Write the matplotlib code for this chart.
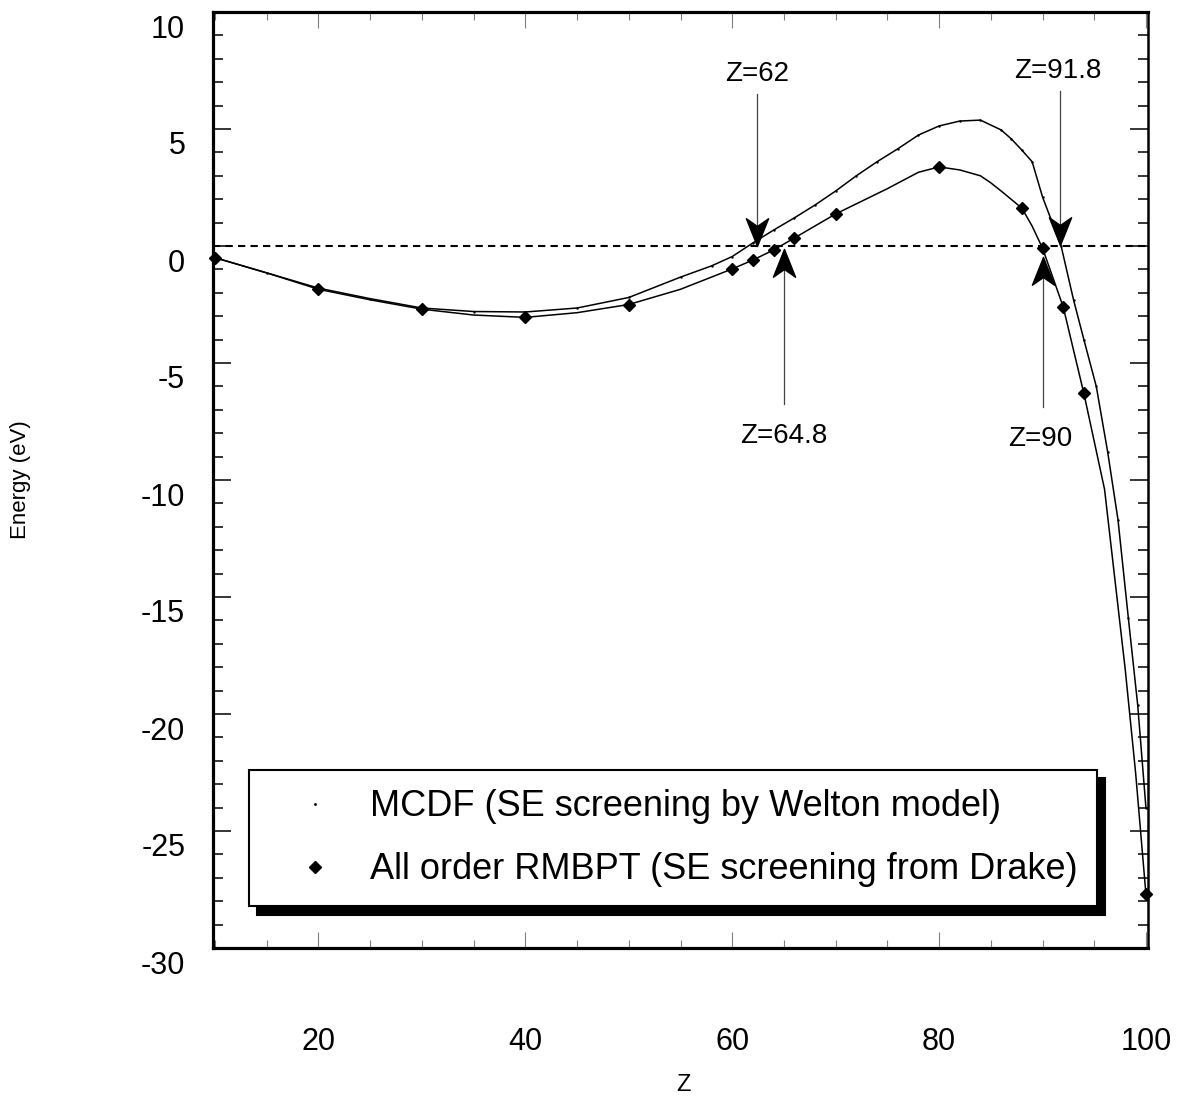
import matplotlib
matplotlib.use("Agg")
import matplotlib.pyplot as plt
import matplotlib.transforms as mtransforms
from matplotlib.lines import Line2D
from matplotlib.path import Path
from matplotlib.ticker import MultipleLocator

plt.rcParams["font.family"] = ["Liberation Sans", "DejaVu Sans"]
plt.rcParams["axes.unicode_minus"] = False

# All order RMBPT points (diamonds)
z_rmbpt = [10, 20, 30, 40, 50, 60, 62, 64, 66, 70, 80, 88, 90, 92, 94, 100]
e_rmbpt = [-0.5, -1.85, -2.7, -3.05, -2.5, -0.98, -0.6, -0.17, 0.34, 1.37,
           3.38, 1.62, -0.09, -2.6, -6.3, -27.7]

# RMBPT curve
z_rmbpt_curve = [10, 15, 20, 25, 30, 35, 40, 45, 50, 55, 60, 62, 64, 66, 70,
                 75, 78, 80, 82, 84, 85, 86, 88, 89, 90, 92, 94, 96, 98, 99, 100]
e_rmbpt_curve = [-0.5, -1.15, -1.85, -2.3, -2.7, -2.95, -3.05, -2.85, -2.5,
                 -1.85, -0.98, -0.6, -0.17, 0.34, 1.37, 2.45, 3.15, 3.38, 3.25,
                 3.0, 2.7, 2.35, 1.62, 0.85, -0.09, -2.6, -6.3, -10.4, -18.1,
                 -22.5, -27.7]

# MCDF curve
z_mcdf = [10, 15, 20, 25, 30, 35, 40, 45, 50, 55, 58, 60, 62, 64, 66, 68, 70,
          72, 74, 76, 78, 80, 82, 84, 86, 87, 88, 89, 90, 91.8, 93, 94, 95.2,
          96.3, 97.3, 98.3, 99.2, 100]
e_mcdf = [-0.5, -1.15, -1.8, -2.25, -2.65, -2.8, -2.82, -2.65, -2.2, -1.33,
          -0.85, -0.45, 0.13, 0.68, 1.2, 1.75, 2.35, 3.0, 3.6, 4.15, 4.74,
          5.13, 5.34, 5.38, 4.96, 4.57, 4.1, 3.6, 2.1, 0.0, -2.3, -4.0, -6.0,
          -8.8, -11.7, -15.9, -19.6, -24.0]

# zero crossings marked with arrows
arrow_x = [62.4, 65.0, 91.7, 90.0]
arrow_tail = [6.5, -6.75, 6.62, -6.88]
arrow_tip = [0.0, -0.13, 0.05, -0.47]
arrow_text = ["Z=62", "Z=64.8", "Z=91.8", "Z=90"]
text_x = [62.4, 65.0, 91.5, 89.8]
text_y = [7.35, -8.1, 7.48, -8.25]

fig = plt.figure(figsize=(11.86, 11.09), dpi=100)
ax = fig.add_axes([213 / 1186, 1 - 948 / 1109, 935 / 1186, 936 / 1109])

ax.axhline(0, color="black", lw=1.5, ls=(0, (3.5, 2.5)), zorder=1)

ax.plot(z_mcdf, e_mcdf, color="black", lw=1.1, marker=".", markersize=1.5)
ax.plot(z_rmbpt_curve, e_rmbpt_curve, color="black", lw=1.1)
ax.plot(z_rmbpt, e_rmbpt, ls="none", marker="D", markersize=6.3,
        color="black", clip_on=False, zorder=5)

head_down = Path([(0, 0), (-0.4, 1), (0, 0.72), (0.4, 1), (0, 0)],
                 [Path.MOVETO, Path.LINETO, Path.LINETO, Path.LINETO, Path.CLOSEPOLY])
head_up = Path([(0, 0), (-0.4, -1), (0, -0.72), (0.4, -1), (0, 0)],
               [Path.MOVETO, Path.LINETO, Path.LINETO, Path.LINETO, Path.CLOSEPOLY])

for x, y0, y1, txt, tx, ty in zip(arrow_x, arrow_tail, arrow_tip, arrow_text, text_x, text_y):
    ax.plot([x, x], [y0, y1], color="#444444", lw=0.9, zorder=6)
    head = head_down if y0 > y1 else head_up
    ax.plot(x, y1, marker=head, markersize=40, color="black", ls="none", zorder=7)
    ax.text(tx, ty, txt, fontsize=20, ha="center", va="center")

ax.set_xlim(9.8, 100.2)
ax.set_ylim(-30, 10)
ax.set_xticks([20, 40, 60, 80, 100])
ax.xaxis.set_minor_locator(MultipleLocator(5))
ax.set_yticks(range(-30, 11, 5))
ax.yaxis.set_minor_locator(MultipleLocator(1))

ax.tick_params(which="both", direction="in", top=True, right=True, labelsize=22)
ax.tick_params(axis="x", which="major", length=11.5, width=0.8, color="#808080", pad=57)
ax.tick_params(axis="x", which="minor", length=5.8, width=0.8, color="#808080")
ax.tick_params(axis="y", which="major", length=13, width=1.1, color="black", pad=20)
ax.tick_params(axis="y", which="minor", length=7, width=1.1, color="black")

offset = mtransforms.ScaledTranslation(0, -14 / 100, fig.dpi_scale_trans)
for lab in ax.get_yticklabels():
    lab.set_transform(lab.get_transform() + offset)

for side in ["left", "bottom", "top"]:
    ax.spines[side].set_linewidth(2.3)
ax.spines["right"].set_linewidth(1.8)

ax.set_xlabel("Z", fontsize=17)
ax.xaxis.set_label_coords(0.5027, -0.146)
ax.xaxis.label.set_va("center")
ax.set_ylabel("Energy (eV)", fontsize=16)
ax.yaxis.set_label_coords(-0.206, 0.5)
ax.yaxis.label.set_va("center")

handles = [
    Line2D([], [], ls="none", marker=".", markersize=2, color="black"),
    Line2D([], [], ls="none", marker="D", markersize=6, color="black"),
]
labels = ["MCDF (SE screening by Welton model)",
          "All order RMBPT (SE screening from Drake)"]
leg = ax.legend(handles, labels, loc="upper left",
                bbox_to_anchor=((249 - 213) / 935, (948 - 770) / 936),
                borderaxespad=0, fontsize=26, frameon=True, fancybox=False,
                edgecolor="black", framealpha=1, borderpad=0.53,
                handlelength=2.6, handletextpad=0.22, labelspacing=0.78,
                shadow={"ox": 6, "oy": -6, "facecolor": "black", "edgecolor": "black", "alpha": 1})
leg.get_frame().set_linewidth(1.5)

fig.savefig("out.png", dpi=100)
